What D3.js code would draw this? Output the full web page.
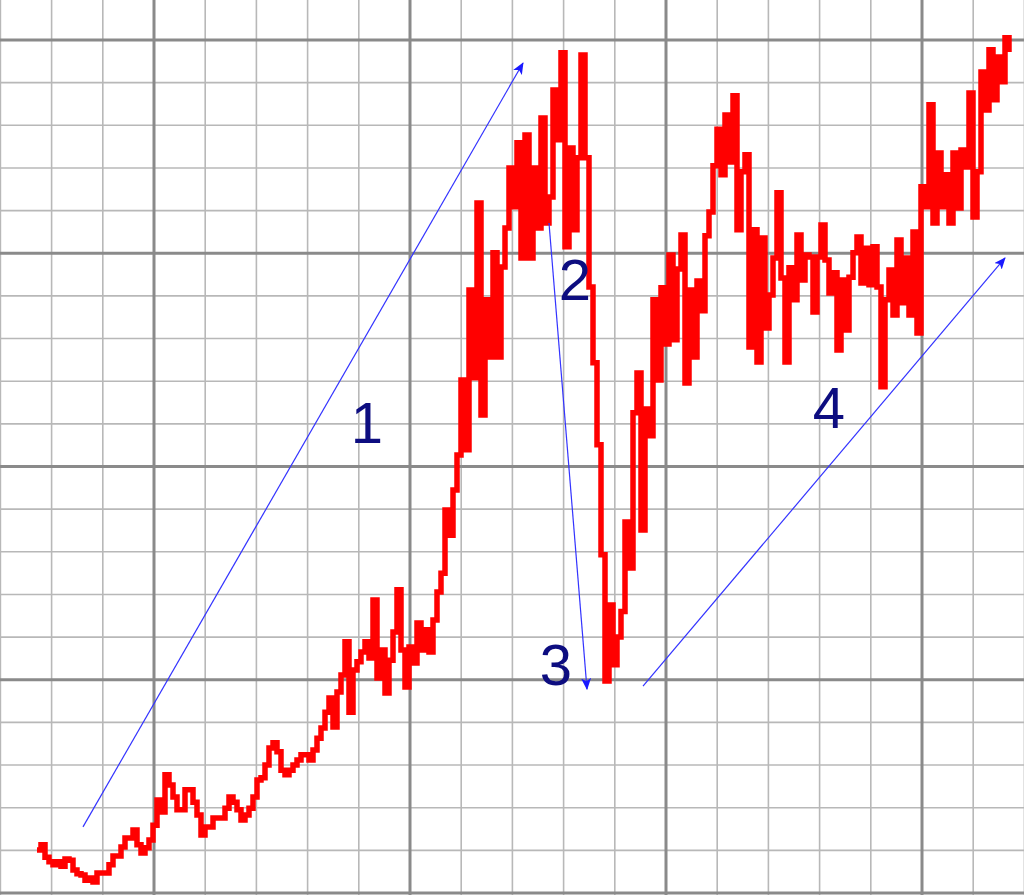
<!DOCTYPE html>
<html>
<head>
<meta charset="utf-8">
<script src="https://cdn.jsdelivr.net/npm/d3@7"></script>
<style>
  html, body { margin: 0; padding: 0; background: #ffffff; }
  svg { display: block; }
</style>
</head>
<body>
<svg id="chart" width="1024" height="895"></svg>
<script>
// ---- data (period index -> price level; minor grid = 10 price units) ----
const priceValues = [
  10.1, 11.3, 8.4, 7.3, 6.6, 7.3, 6.3, 8.0, 7.7, 5.4,
  4.5, 4.2, 3.0, 3.5, 2.6, 4.7, 4.7, 4.7, 6.6, 8.7,
  8.7, 10.8, 12.9, 12.9, 14.8, 11.3, 9.4, 10.6, 12.4, 15.9,
  21.8, 19.0, 27.7, 25.3, 22.5, 19.5, 19.5, 24.2, 24.2, 21.3,
  18.3, 13.6, 15.5, 15.5, 17.6, 17.6, 17.6, 19.9, 22.5, 21.3,
  19.5, 17.1, 18.3, 19.9, 22.5, 26.5, 27.0, 30.0, 34.0, 35.2,
  33.1, 28.8, 27.7, 28.8, 30.0, 31.2, 32.4, 32.4, 31.2, 33.5,
  36.3, 38.7, 42.4, 45.7, 38.9, 47.1, 51.1, 58.9, 42.4, 52.3,
  54.2, 56.5, 58.9, 55.1, 68.7, 50.4, 57.0, 46.9, 54.6, 61.2,
  71.1, 57.0, 48.3, 57.7, 53.9, 63.3, 57.0, 61.7, 56.5, 64.0,
  70.6, 75.0, 89.8, 83.9, 94.5, 102.7, 120.3, 103.9, 141.4, 120.8,
  161.8, 112.1, 139.1, 125.7, 150.1, 125.7, 146.8, 155.9, 170.0, 160.9,
  175.9, 148.9, 177.7, 148.9, 170.0, 155.9, 181.7, 157.1, 163.2, 188.3,
  176.6, 197.0, 151.5, 174.7, 155.5, 172.4, 196.5, 172.4, 142.1, 124.3,
  105.1, 79.3, 49.7, 67.5, 53.5, 60.0, 66.0, 87.0, 76.2, 112.6,
  121.9, 85.1, 113.5, 107.2, 139.1, 120.3, 141.9, 128.7, 149.6, 129.7,
  146.3, 154.3, 119.6, 141.4, 125.7, 143.5, 136.5, 154.1, 159.7, 170.5,
  179.1, 168.4, 182.4, 171.4, 186.9, 155.5, 169.1, 173.1, 128.0, 155.5,
  124.5, 153.6, 132.5, 140.2, 148.9, 164.2, 144.2, 124.5, 146.6, 139.1,
  154.3, 143.7, 149.6, 149.1, 136.2, 149.1, 156.6, 148.4, 140.7, 145.4,
  127.3, 143.7, 132.0, 144.4, 150.1, 153.8, 143.0, 151.2, 142.6, 151.5,
  142.1, 118.7, 139.1, 146.1, 135.5, 153.1, 138.4, 148.9, 135.5, 155.0,
  131.3, 165.6, 160.9, 184.8, 157.1, 173.5, 160.9, 168.4, 157.1, 173.5,
  160.6, 174.2, 170.2, 187.6, 158.5, 169.1, 192.5, 183.6, 197.7, 186.0,
  196.0, 190.2, 200.5, 197.2
];

// trend arrows: [startIndex, startValue] -> [endIndex, endValue]
const arrowStarts = [[11.5, 15.5], [128, 157.1], [151.5, 48.5]];
const arrowEnds   = [[121.5, 194.6], [137.5, 47.8], [242, 148.9]];

// phase labels
const phaseLabels    = ["1", "2", "3", "4"];
const phaseLabelPos  = [[82.5, 105.5], [134.5, 139.0], [129.75, 48.8], [198, 109.0]];

// grid: 20 columns x 20 rows of minor cells, every 5th line major
const gridCols = d3.range(0, 21);
const gridRows = d3.range(0, 21);

// ---- drawing ----
const W = 1024, H = 895;
const svg = d3.select("#chart");

const x = d3.scaleLinear().domain([0, priceValues.length - 1]).range([37, 1009]);
const y = d3.scaleLinear().domain([0, 200]).range([893, 40]);
const gx = d3.scaleLinear().domain([0, 20]).range([0.4, 1024.4]);
const gy = d3.scaleLinear().domain([0, 20]).range([893, 40]);

svg.append("rect").attr("width", W).attr("height", H).attr("fill", "#ffffff");

const grid = svg.append("g");
grid.selectAll("line.vmin").data(gridCols.filter(k => k % 5 !== 3)).enter().append("line")
  .attr("x1", d => gx(d)).attr("x2", d => gx(d)).attr("y1", 0).attr("y2", H)
  .attr("stroke", "#b8b8b8").attr("stroke-width", 1.6);
grid.selectAll("line.hmin").data(gridRows.filter(k => k % 5 !== 0)).enter().append("line")
  .attr("y1", d => gy(d)).attr("y2", d => gy(d)).attr("x1", 0).attr("x2", W)
  .attr("stroke", "#b8b8b8").attr("stroke-width", 1.6);
grid.selectAll("line.vmaj").data(gridCols.filter(k => k % 5 === 3)).enter().append("line")
  .attr("x1", d => gx(d)).attr("x2", d => gx(d)).attr("y1", 0).attr("y2", H)
  .attr("stroke", "#8a8a8a").attr("stroke-width", 3);
grid.selectAll("line.hmaj").data(gridRows.filter(k => k % 5 === 0)).enter().append("line")
  .attr("y1", d => gy(d)).attr("y2", d => gy(d)).attr("x1", 0).attr("x2", W)
  .attr("stroke", "#8a8a8a").attr("stroke-width", 3);

// price step line
const line = d3.line()
  .x((d, i) => x(i))
  .y(d => y(d))
  .curve(d3.curveStepAfter);

svg.append("path")
  .datum(priceValues)
  .attr("d", line)
  .attr("fill", "none")
  .attr("stroke", "#ff0000")
  .attr("stroke-width", 5.5)
  .attr("stroke-linejoin", "miter");

// arrows
const defs = svg.append("defs");
defs.append("marker")
  .attr("id", "arrowhead")
  .attr("viewBox", "0 0 12 10")
  .attr("refX", 11).attr("refY", 5)
  .attr("markerWidth", 12).attr("markerHeight", 10)
  .attr("markerUnits", "userSpaceOnUse")
  .attr("orient", "auto")
  .append("path")
  .attr("d", "M0,0 L12,5 L0,10 L3,5 Z")
  .attr("fill", "#1a1aff");

svg.selectAll("line.arrow").data(arrowStarts).enter().append("line")
  .attr("x1", d => x(d[0])).attr("y1", d => y(d[1]))
  .attr("x2", (d, i) => x(arrowEnds[i][0])).attr("y2", (d, i) => y(arrowEnds[i][1]))
  .attr("stroke", "#3333ff")
  .attr("stroke-width", 1.2)
  .attr("marker-end", "url(#arrowhead)");

// labels
svg.selectAll("text.phase").data(phaseLabels).enter().append("text")
  .attr("x", (d, i) => x(phaseLabelPos[i][0]))
  .attr("y", (d, i) => y(phaseLabelPos[i][1]))
  .attr("text-anchor", "middle")
  .attr("font-family", "'Liberation Sans', Arial, sans-serif")
  .attr("font-size", 58)
  .attr("fill", "#0d0d80")
  .text(d => d);
</script>
</body>
</html>
